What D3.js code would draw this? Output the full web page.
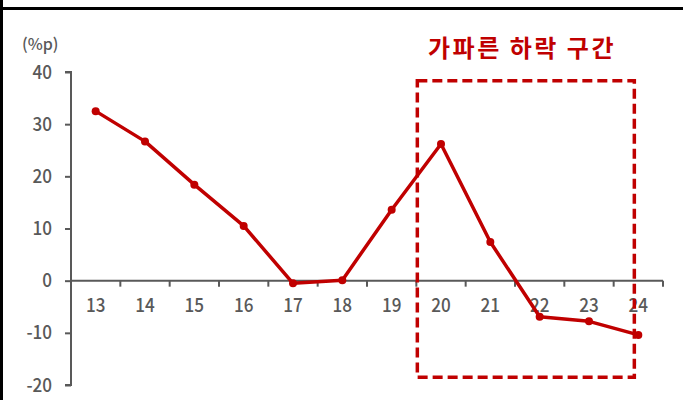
<!DOCTYPE html>
<html>
<head>
<meta charset="utf-8">
<script src="https://cdn.jsdelivr.net/npm/d3@7"></script>
<style>
  html, body { margin: 0; padding: 0; background: #fff; }
  svg { display: block; }
</style>
</head>
<body>
<svg id="chart" width="688" height="400"></svg>
<script>
// Years (two-digit) on the x axis
const years = ["13", "14", "15", "16", "17", "18", "19", "20", "21", "22", "23", "24"];
// Change in %p per year
const values = [32.5, 26.7, 18.4, 10.5, -0.5, 0.1, 13.6, 26.2, 7.4, -6.9, -7.8, -10.4];
// Y axis ticks
const yTicks = [40, 30, 20, 10, 0, -10, -20];
const unitLabel = "(%p)";
const highlightLabel = "가파른 하락 구간";
// Highlighted span: from start of "20" band to "24", value range
const highlightYears = ["20", "24"];
const highlightRange = [38.3, -18.5];

const red = "#C00000";
const gray = "#595959";
const font = "'Noto Sans CJK KR', 'Noto Sans', sans-serif";

const svg = d3.select("#chart");

// Frame lines
svg.append("line").attr("x1", 0).attr("x2", 683).attr("y1", 8.5).attr("y2", 8.5)
  .attr("stroke", "#000").attr("stroke-width", 3);
svg.append("line").attr("x1", 1.5).attr("x2", 1.5).attr("y1", 0).attr("y2", 400)
  .attr("stroke", "#000").attr("stroke-width", 3);

const x = d3.scaleBand().domain(years).range([71, 663]).padding(0);
const y = d3.scaleLinear().domain([-20, 40]).range([385, 72]);

// Narrow the numeric labels horizontally
function narrow(sel, k) {
  sel.each(function () {
    const w = this.getComputedTextLength();
    d3.select(this).attr("textLength", w * k).attr("lengthAdjust", "spacingAndGlyphs");
  });
}

// Y axis (plain hyphen for negatives)
const yAxis = svg.append("g").attr("transform", "translate(71,0)")
  .call(d3.axisLeft(y).tickValues(yTicks).tickSize(6).tickPadding(13).tickFormat(d => String(d)));
yAxis.select(".domain").attr("stroke", gray).attr("stroke-width", 2)
  .attr("d", `M-6,${y(40)}H0V${y(-20)}H-6`);
yAxis.selectAll(".tick line").attr("stroke", gray).attr("stroke-width", 2);
yAxis.selectAll(".tick text").attr("fill", gray).attr("font-family", font)
  .attr("font-size", 19).attr("font-weight", 500).call(narrow, 0.9);

// X axis on zero line
const xAxis = svg.append("g").attr("transform", `translate(0,${y(0)})`)
  .call(d3.axisBottom(x).tickSize(0).tickPadding(18));
xAxis.select(".domain").attr("stroke", gray).attr("stroke-width", 2)
  .attr("d", `M71,0H663`);
xAxis.selectAll(".tick text").attr("fill", gray).attr("font-family", font)
  .attr("font-size", 19).attr("font-weight", 500).call(narrow, 0.9);
// Band boundary ticks
const bounds = years.map(d => x(d)).concat([x(years[years.length - 1]) + x.bandwidth()]);
xAxis.selectAll(".bound").data(bounds.slice(1)).join("line")
  .attr("x1", d => d).attr("x2", d => d).attr("y1", 0).attr("y2", 6)
  .attr("stroke", gray).attr("stroke-width", 2);

// Unit label
svg.append("text").attr("x", 22).attr("y", 50).text(unitLabel)
  .attr("fill", gray).attr("font-family", font).attr("font-size", 16).attr("font-weight", 500);

// Highlight box
const bx0 = x(highlightYears[0]) + 1;
const bx1 = x(highlightYears[1]) + x.bandwidth() / 2 - 4;
svg.append("rect")
  .attr("x", bx0).attr("y", y(highlightRange[0]))
  .attr("width", bx1 - bx0).attr("height", y(highlightRange[1]) - y(highlightRange[0]))
  .attr("fill", "none").attr("stroke", red).attr("stroke-width", 3.5)
  .attr("stroke-dasharray", "10,5");

svg.append("text").attr("x", 428).attr("y", 57).text(highlightLabel)
  .attr("fill", red).attr("font-family", font).attr("font-size", 24).attr("font-weight", 700)
  .attr("letter-spacing", 2.5);

// Line
const line = d3.line().x((d, i) => x(years[i]) + x.bandwidth() / 2).y(d => y(d));
svg.append("path").datum(values).attr("d", line)
  .attr("fill", "none").attr("stroke", red).attr("stroke-width", 3.5)
  .attr("stroke-linejoin", "round");
svg.selectAll(".pt").data(values).join("circle")
  .attr("cx", (d, i) => x(years[i]) + x.bandwidth() / 2).attr("cy", d => y(d))
  .attr("r", 4).attr("fill", red);
</script>
</body>
</html>
